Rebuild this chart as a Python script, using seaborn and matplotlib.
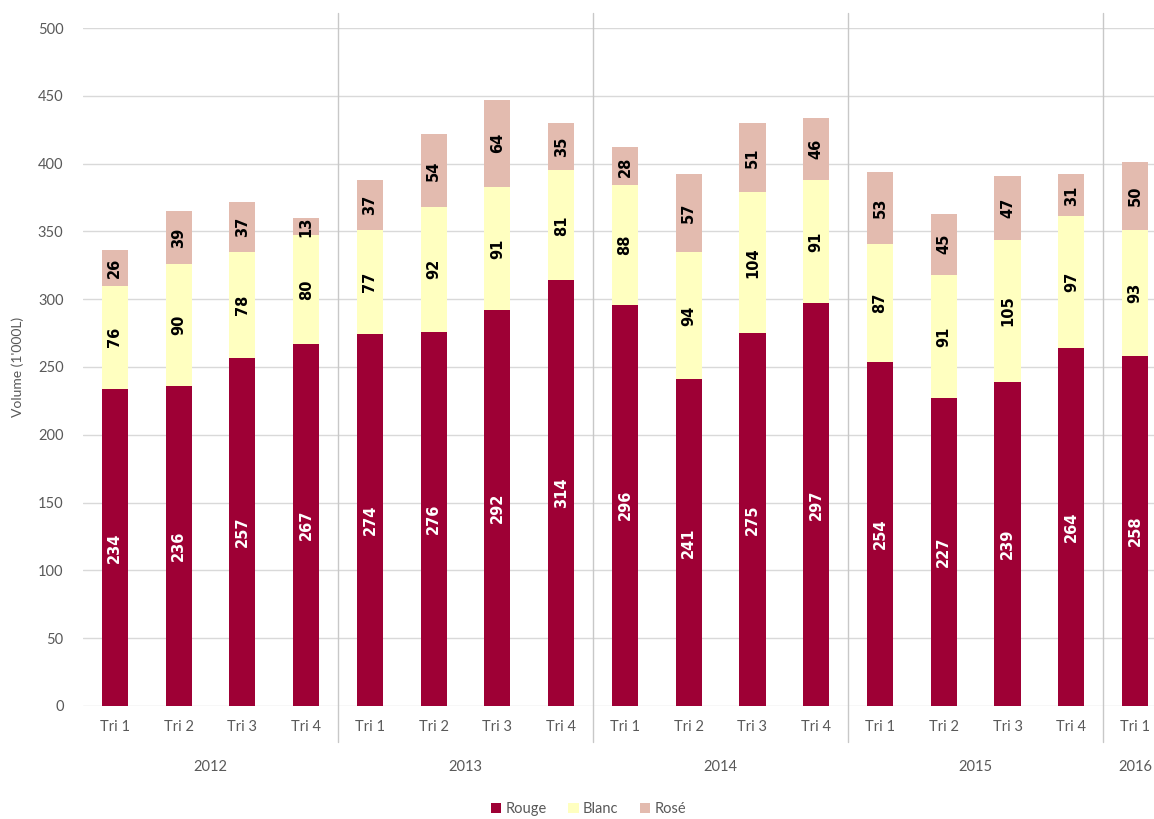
import pandas as pd
import matplotlib.pyplot as plt
import matplotlib.transforms as mtransforms
from matplotlib.patches import Patch
import seaborn as sns

# Données trimestrielles (volume en milliers de litres)
annees = ['2012', '2013', '2014', '2015', '2016']
trimestres = ['Tri 1', 'Tri 2', 'Tri 3', 'Tri 4']
nb_trim = [4, 4, 4, 4, 1]
rouge = [234, 236, 257, 267, 274, 276, 292, 314, 296, 241, 275, 297, 254, 227, 239, 264, 258]
blanc = [76, 90, 78, 80, 77, 92, 91, 81, 88, 94, 104, 91, 87, 91, 105, 97, 93]
rose = [26, 39, 37, 13, 37, 54, 64, 35, 28, 57, 51, 46, 53, 45, 47, 31, 50]

couleurs = {'Rouge': '#9E0035', 'Blanc': '#FFFFC0', 'Rosé': '#E3BBAF'}

# Construction du tableau
periodes, tri_labels = [], []
for a, n in zip(annees, nb_trim):
    for t in trimestres[:n]:
        periodes.append(f'{a} {t}')
        tri_labels.append(t)

df = pd.DataFrame({'periode': periodes, 'Rouge': rouge, 'Blanc': blanc, 'Rosé': rose})
df['base_blanc'] = df['Rouge']
df['base_rose'] = df['Rouge'] + df['Blanc']

sns.set_style('white')
plt.rcParams['font.family'] = ['Lato', 'DejaVu Sans']

fig = plt.figure(figsize=(11.54, 8.19), dpi=100)
ax = fig.add_axes([0.0719, 0.138, 0.9393, 0.8278])

w = 0.41
sns.barplot(data=df, x='periode', y='Rouge', order=periodes, color=couleurs['Rouge'],
            width=w, saturation=1, ax=ax, linewidth=0, zorder=3)
sns.barplot(data=df, x='periode', y='Blanc', order=periodes, color=couleurs['Blanc'],
            width=w, saturation=1, ax=ax, bottom=df['base_blanc'], linewidth=0, zorder=3)
sns.barplot(data=df, x='periode', y='Rosé', order=periodes, color=couleurs['Rosé'],
            width=w, saturation=1, ax=ax, bottom=df['base_rose'], linewidth=0, zorder=3)

# Étiquettes des valeurs
for i in range(len(df)):
    segs = [(0, rouge[i], 'white'), (rouge[i], blanc[i], 'black'),
            (rouge[i] + blanc[i], rose[i], 'black')]
    for bas, h, c in segs:
        ax.text(i, bas + h / 2, str(h), rotation=90, ha='center', va='center',
                color=c, fontsize=10.5, fontweight='bold', family='DejaVu Sans', zorder=4)

ax.set_ylim(0, 500)
ax.set_xlim(-0.5, len(df) - 0.5)
ax.set_yticks(range(0, 501, 50))
ax.yaxis.grid(True, color='#D9D9D9', lw=1, zorder=0)
ax.set_axisbelow(True)
for s in ax.spines.values():
    s.set_visible(False)
ax.tick_params(axis='both', length=0, colors='#595959', labelsize=10.5)
ax.tick_params(axis='y', pad=14)
ax.tick_params(axis='x', pad=10)
ax.set_xticks(range(len(df)))
ax.set_xticklabels(tri_labels)
ax.set_xlabel('')
ax.set_ylabel("Volume (1'000L)", color='#595959', fontsize=10, labelpad=10)

# Séparateurs et libellés des années
trans = mtransforms.blended_transform_factory(ax.transData, ax.transAxes)
debut = 0
for k, (a, n) in enumerate(zip(annees, nb_trim)):
    fin = debut + n
    ax.text((debut + fin - 1) / 2, -0.09, a, transform=trans, ha='center', va='center',
            color='#595959', fontsize=10.5)
    if k < len(annees) - 1:
        ax.plot([fin - 0.5, fin - 0.5], [-0.053, 1.022], transform=trans,
                color='#C8C8C8', lw=1, clip_on=False, zorder=1)
    debut = fin

handles = [Patch(facecolor=c, edgecolor='none', label=n) for n, c in couleurs.items()]
fig.legend(handles=handles, loc='center', bbox_to_anchor=(0.51, 0.012), ncol=3,
           frameon=False, fontsize=10.5, handlelength=0.7, handleheight=0.7,
           handletextpad=0.3, columnspacing=1.5, labelcolor='#595959')

fig.savefig('out.png', dpi=100)
